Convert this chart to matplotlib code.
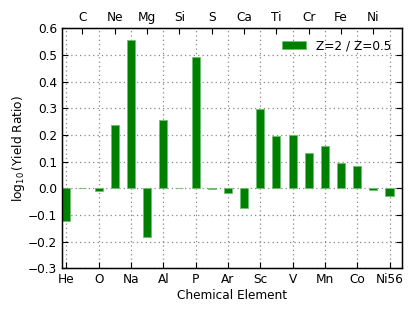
import numpy as np
import matplotlib
matplotlib.use("Agg")
import matplotlib.pyplot as plt

elements = ["He", "C", "O", "Ne", "Na", "Mg", "Al", "Si", "P", "S", "Ar",
            "Ca", "Sc", "Ti", "V", "Cr", "Mn", "Fe", "Co", "Ni", "Ni56"]
log_ratio = [-0.124, 0.0, -0.009, 0.238, 0.558, -0.183, 0.258, 0.002, 0.492,
             -0.003, -0.019, -0.075, 0.297, 0.197, 0.200, 0.131, 0.157,
             0.096, 0.085, -0.006, -0.029]

plt.rcParams["xtick.direction"] = "in"
plt.rcParams["ytick.direction"] = "in"
plt.rcParams["font.size"] = 8.7

fig = plt.figure(figsize=(4.15, 3.12), dpi=100)
ax = fig.add_axes([0.150, 0.140, 0.819, 0.769])

x = np.arange(len(elements))
ax.bar(x, log_ratio, width=0.5, color="green", edgecolor="#6fbf6f",
       linewidth=0.6, label="Z=2 / Z=0.5", zorder=2)

ax.set_xlim(-0.25, 20.78)
ax.set_ylim(-0.3, 0.6)
ax.set_yticks(np.arange(-0.3, 0.61, 0.1))
ax.set_xticks(x[::2])
ax.set_xticklabels(elements[::2])
ax.tick_params(top=False, right=True, length=4, width=0.8)
ax.grid(True, color="#888888", linestyle=(0, (1, 2.5)), linewidth=0.9)
ax.set_axisbelow(True)
ax.set_xlabel("Chemical Element", labelpad=2)
ax.set_ylabel(r"$\log_{10}$(Yield Ratio)", labelpad=1)
ax.legend(loc="upper right", frameon=False, handlelength=2.0, fontsize=8.7)
for s in ax.spines.values():
    s.set_linewidth(1.0)

ax2 = ax.twiny()
ax2.set_xlim(ax.get_xlim())
ax2.set_xticks(x[1::2])
ax2.set_xticklabels(elements[1::2])
ax2.tick_params(length=4, width=0.8, direction="in")

fig.savefig("out.png", dpi=100)
